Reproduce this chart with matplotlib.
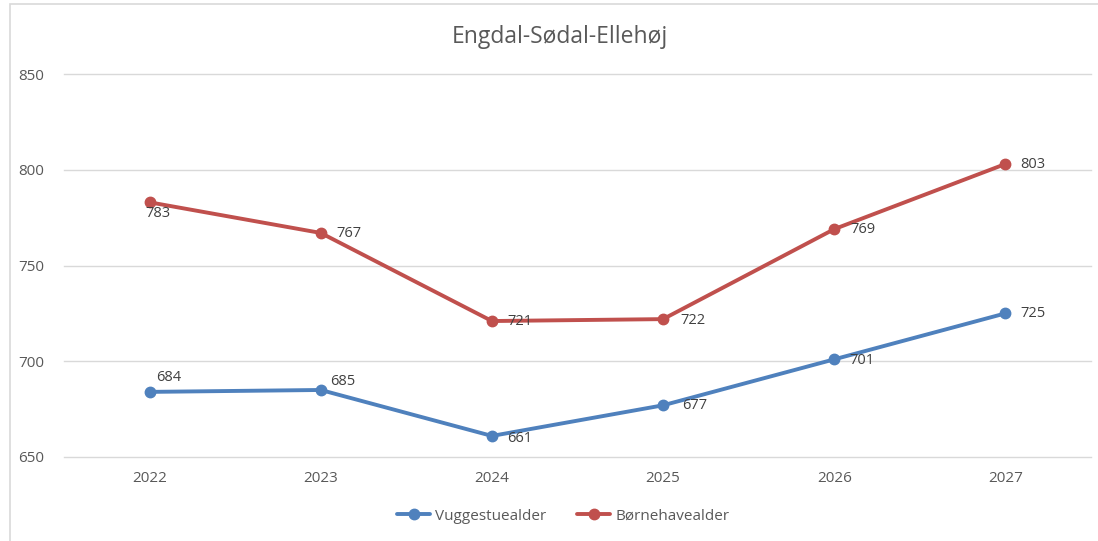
import matplotlib.pyplot as plt
from matplotlib.patches import Rectangle

# Data
years = ['2022', '2023', '2024', '2025', '2026', '2027']
vuggestue = [684, 685, 661, 677, 701, 725]
boernehave = [783, 767, 721, 722, 769, 803]

# label offsets in pixels (dx, dy, ha)
vug_offsets = [(7, 14, 'left'), (9, 8, 'left'), (15, -3, 'left'),
               (19, 0, 'left'), (15, -1, 'left'), (15, 0, 'left')]
boe_offsets = [(8, -11, 'center'), (16, -1, 'left'), (15, 0, 'left'),
               (17, -1, 'left'), (16, 0, 'left'), (15, 0, 'left')]

blue = '#4F81BD'
red = '#C0504D'
txt = '#595959'

plt.rcParams['font.family'] = ['Open Sans', 'DejaVu Sans']

fig = plt.figure(figsize=(10.98, 5.41), dpi=100)
ax = fig.add_axes([64 / 1098, 1 - 457 / 541, 1027 / 1098, 383 / 541])

# chart border (cut off at right and bottom like the screenshot)
fig.patches.append(Rectangle((10 / 1098, -0.1), 1.2, 1.1 - 4 / 541,
                             transform=fig.transFigure, fill=False,
                             edgecolor='#D9D9D9', lw=1.2))

x = list(range(len(years)))
ax.plot(x, vuggestue, color=blue, lw=2.8, marker='o', markersize=7.5,
        label='Vuggestuealder', solid_capstyle='round')
ax.plot(x, boernehave, color=red, lw=2.8, marker='o', markersize=7.5,
        label='Børnehavealder', solid_capstyle='round')

for xi, v, (dx, dy, ha) in zip(x, vuggestue, vug_offsets):
    ax.annotate(str(v), (xi, v), xytext=(dx, dy), textcoords='offset pixels',
                ha=ha, va='center', fontsize=10.5, color='#404040')
for xi, v, (dx, dy, ha) in zip(x, boernehave, boe_offsets):
    ax.annotate(str(v), (xi, v), xytext=(dx, dy), textcoords='offset pixels',
                ha=ha, va='center', fontsize=10.5, color='#404040')

ax.set_xlim(-0.5, 5.5)
ax.set_ylim(650, 850)
ax.set_yticks([650, 700, 750, 800, 850])
ax.set_xticks(x)
ax.set_xticklabels(years)
ax.tick_params(length=0, colors=txt, labelsize=11)
ax.tick_params(axis='y', pad=14)
ax.tick_params(axis='x', pad=10)
ax.grid(axis='y', color='#D9D9D9', lw=1)
for gl in ax.get_ygridlines():
    gl.set_clip_on(False)
ax.set_axisbelow(True)
for s in ax.spines.values():
    s.set_visible(False)

fig.text(560 / 1098, 1 - 37 / 541, 'Engdal-Sødal-Ellehøj', ha='center',
         va='center', fontsize=16.5, color=txt)

fig.legend(loc='center', bbox_to_anchor=(563 / 1098, 1 - 516 / 541), ncol=2,
           frameon=False, fontsize=11, labelcolor=txt, handlelength=2.2,
           handletextpad=0.3, columnspacing=2.0)

fig.savefig('out.png', dpi=100)
